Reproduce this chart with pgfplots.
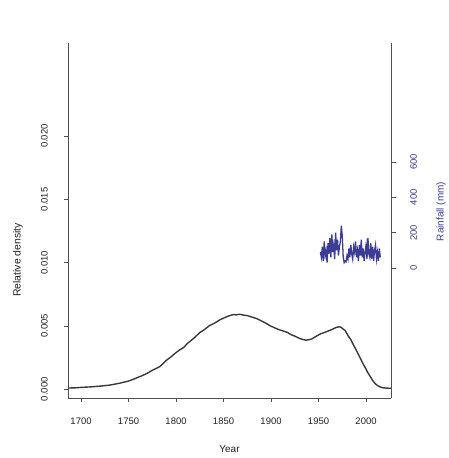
\documentclass[border=0pt]{standalone}
\usepackage{pgfplots}
\pgfplotsset{compat=1.18}
\usepackage{fontspec}
\setmainfont{Liberation Sans}
\definecolor{dens}{HTML}{383838}
\definecolor{rain}{HTML}{3C3C96}
\definecolor{axgray}{HTML}{505050}
\definecolor{txt}{HTML}{202020}

\begin{document}
\begin{tikzpicture}[x=1bp,y=1bp]
\useasboundingbox (0,0) rectangle (449,458);
\begin{axis}[
  at={(68bp,60bp)}, anchor=south west,
  width=323bp, height=354.7bp, scale only axis,
  xmin=1686.3, xmax=2026.3,
  ymin=-0.000687, ymax=0.02733,
  axis x line*=bottom, axis y line*=left,
  axis line style={axgray, line width=0.9pt},
  tick align=outside, major tick length=4.5bp,
  tick style={axgray, line width=0.9pt},
  xtick={1700,1750,1800,1850,1900,1950,2000},
  xticklabels={1700,1750,1800,1850,1900,1950,2000},
  ytick={0,0.005,0.010,0.015,0.020},
  yticklabels={0.000,0.005,0.010,0.015,0.020},
  scaled y ticks=false,
  xticklabel style={font=\fontsize{9.5}{10}\selectfont, text=txt, inner sep=0pt, anchor=north},
  yticklabel style={font=\fontsize{9.5}{10}\selectfont, text=txt, inner sep=0pt, rotate=90, anchor=south},
  xticklabel shift=14.9bp,
  yticklabel shift=15.5bp,
  clip=false,
]
\addplot[dens, line width=1.4pt] coordinates {
(1686.3,0.00010) (1695,0.00012) (1700,0.00015) (1710,0.00019) (1720,0.00025)
(1730,0.00033) (1740,0.00047) (1750,0.00065) (1757,0.00085) (1765,0.00110)
(1770,0.00128) (1775,0.00150) (1780,0.00168) (1783,0.00180) (1786,0.00200)
(1790,0.00230) (1795,0.00258) (1800,0.00290) (1804,0.00312) (1808,0.00330)
(1812,0.00362) (1815,0.00380) (1820,0.00412) (1825,0.00448) (1830,0.00472)
(1835,0.00502) (1840,0.00520) (1846,0.00548) (1850,0.00562) (1855,0.00578)
(1860,0.00590) (1863,0.00588) (1867,0.00593) (1871,0.00586) (1875,0.00582)
(1881,0.00568) (1885,0.00558) (1890,0.00540) (1895,0.00520) (1899,0.00502)
(1904,0.00485) (1908,0.00472) (1912,0.00462) (1917,0.00450) (1921,0.00432)
(1925,0.00420) (1930,0.00402) (1934,0.00392) (1937,0.00388) (1940,0.00392)
(1943,0.00398) (1946,0.00412) (1949,0.00425) (1952,0.00438) (1956,0.00448)
(1960,0.00460) (1964,0.00472) (1969,0.00490) (1972,0.00494) (1974,0.00488)
(1976,0.00475) (1978,0.00465) (1981,0.00425) (1984,0.00392) (1986,0.00362)
(1989,0.00320) (1991,0.00290) (1994,0.00245) (1997,0.00200) (2000,0.00160)
(2002,0.00130) (2005,0.00095) (2007,0.00070) (2010,0.00042) (2012,0.00030)
(2015,0.00018) (2018,0.00012) (2022,0.00009) (2026.3,0.00008)
};
\node[rotate=90, font=\fontsize{10.5}{11}\selectfont, text=txt] at (axis description cs:-0.155,0.389) {Relative density};
\node[font=\fontsize{10}{11}\selectfont, text=txt] at (axis description cs:0.5,-0.1438) {Year};
\end{axis}
\begin{axis}[
  at={(68bp,60bp)}, anchor=south west,
  width=323bp, height=354.7bp, scale only axis,
  xmin=1686.3, xmax=2026.3,
  ymin=-735.7, ymax=1271.6,
  axis y line*=right, axis x line=none,
  axis line style={axgray, line width=0.9pt},
  tick align=outside, major tick length=4.5bp,
  tick style={axgray, line width=0.9pt},
  ytick={0,200,400,600},
  yticklabels={0,200,400,600},
  yticklabel style={font=\fontsize{9.5}{10}\selectfont, text=rain, inner sep=0pt, rotate=90, anchor=north},
  yticklabel shift=14.5bp,
  clip=false,
]
\addplot[rain, line width=1.3pt] coordinates {
(1952,90) (1953,60) (1954,120) (1955,40) (1956,150) (1957,70) (1958,100) (1959,30)
(1960,140) (1961,80) (1962,170) (1963,60) (1964,190) (1965,90) (1966,130) (1967,50)
(1968,200) (1969,100) (1970,160) (1971,70) (1972,120) (1973,150) (1974,240) (1975,180)
(1976,60) (1977,30) (1978,40) (1979,35) (1980,70) (1981,50) (1982,110) (1983,60)
(1984,130) (1985,80) (1986,50) (1987,120) (1988,90) (1989,150) (1990,60) (1991,100)
(1992,40) (1993,130) (1994,70) (1995,160) (1996,60) (1997,110) (1998,40) (1999,90)
(2000,130) (2001,50) (2002,170) (2003,80) (2004,60) (2005,140) (2006,50) (2007,120)
(2008,40) (2009,100) (2010,130) (2011,50) (2012,90) (2013,40) (2014,110) (2015,60)
};
\node[rotate=90, font=\fontsize{10}{11}\selectfont, text=rain] at (axis description cs:1.155,0.526) {Rainfall (mm)};
\end{axis}
\end{tikzpicture}
\end{document}
